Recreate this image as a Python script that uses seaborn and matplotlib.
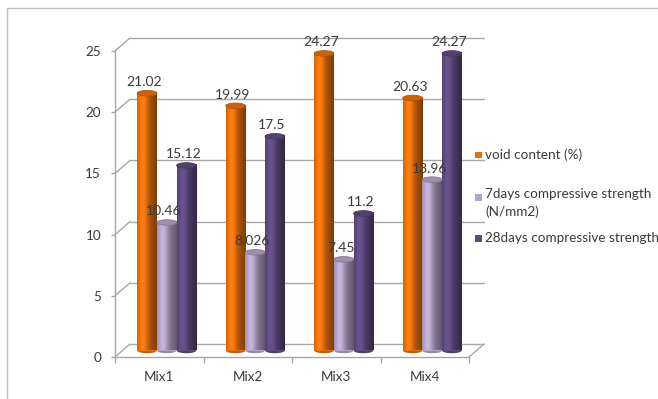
import numpy as np
import pandas as pd
import matplotlib
matplotlib.use("Agg")
import matplotlib.pyplot as plt
import seaborn as sns
from matplotlib.lines import Line2D
from matplotlib.patches import Ellipse, Rectangle
from matplotlib.colors import to_rgb

# ---- data ----
categories = ["Mix1", "Mix2", "Mix3", "Mix4"]
void_content = [21.02, 19.99, 24.27, 20.63]
strength_7d = [10.46, 8.026, 7.45, 13.96]
strength_28d = [15.12, 17.5, 11.2, 24.27]
series_names = ["void content (%)", "7days compressive strength (N/mm2)", "28days compressive strength"]
legend_texts = ["void content (%)", "7days compressive strength\n(N/mm2)", "28days compressive strength"]
y_ticks = [0, 5, 10, 15, 20, 25]

colors = ["#E8700C", "#B3A2C7", "#5E4A80"]

df = pd.DataFrame({
    "Mix": categories * 3,
    "value": void_content + strength_7d + strength_28d,
    "series": [series_names[0]] * 4 + [series_names[1]] * 4 + [series_names[2]] * 4,
})

sns.set_theme(style="white")
plt.rcParams["font.family"] = ["Lato", "DejaVu Sans"]
TXT = "#3A3A3A"
GRID = "#A6A6A6"
FS = 9.7

W, H = 658, 399
fig = plt.figure(figsize=(W / 100, H / 100), dpi=100)
fig.patch.set_facecolor("white")

# front plane geometry (pixels)
fx0, fx1, fy0, fy1 = 115, 469, 357, 51
DX, DY = 15, 13  # depth offset to back wall


def rect(dx, dy):
    return [(fx0 + dx) / W, (H - fy0 + dy) / H, (fx1 - fx0) / W, (fy0 - fy1) / H]

# back wall gridlines
ax_back = fig.add_axes(rect(DX, DY))
ax_back.set_xlim(-0.5, 3.5)
ax_back.set_ylim(0, 25)
for yv in y_ticks:
    ax_back.axhline(yv, color=GRID, lw=1.0, clip_on=False)
ax_back.axis("off")

# front axis
ax = fig.add_axes(rect(0, 0))
ax.set_xlim(-0.5, 3.5)
ax.set_ylim(0, 25)
ax.patch.set_alpha(0)
for s in ["top", "right"]:
    ax.spines[s].set_visible(False)
for s in ["left", "bottom"]:
    ax.spines[s].set_color(GRID)
    ax.spines[s].set_linewidth(1.0)
ax.set_yticks(y_ticks)
ax.set_yticklabels([str(v) for v in y_ticks])
ax.set_xticks(range(len(categories)))
ax.set_xticklabels(categories)
ax.set_xticks([-0.5, 0.5, 1.5, 2.5, 3.5], minor=True)
ax.tick_params(axis="y", which="major", length=3, width=1, color=GRID, pad=7, labelsize=FS, labelcolor=TXT, left=True)
ax.tick_params(axis="x", which="major", length=0, pad=10, labelsize=FS, labelcolor=TXT)
ax.tick_params(axis="x", which="minor", length=4, width=1, color=GRID, bottom=True)

# depth connectors
ddx = DX / (fx1 - fx0) * 4.0
ddy = DY / (fy0 - fy1) * 25.0
for yv in y_ticks:
    ax.add_line(Line2D([-0.5, -0.5 + ddx], [yv, yv + ddy], color=GRID, lw=1.0, clip_on=False))
ax.add_line(Line2D([3.5, 3.5 + ddx], [0, ddy], color=GRID, lw=1.0, clip_on=False))

# bars on the middle plane
ax_bars = fig.add_axes(rect(DX / 2, DY / 2))
ax_bars.set_xlim(-0.5, 3.5)
ax_bars.set_ylim(0, 25)
sns.barplot(data=df, x="Mix", y="value", hue="series", hue_order=series_names,
            order=categories, palette=colors, width=0.667, saturation=1,
            legend=False, ax=ax_bars, linewidth=0)
ax_bars.set_xlim(-0.5, 3.5)
ax_bars.set_ylim(0, 25)
ax_bars.axis("off")
ax_bars.patch.set_alpha(0)

cap_h = 5.5 / (fy0 - fy1) * 25.0
prof = np.linspace(0, 1, 60)
shade = 0.82 + 0.32 * np.exp(-((prof - 0.3) / 0.25) ** 2) - 0.28 * prof ** 2
bars = [p for p in ax_bars.patches if p.get_height() > 0]
for p in bars:
    x, w, h = p.get_x(), p.get_width(), p.get_height()
    base = np.array(to_rgb(p.get_facecolor()))
    grad = np.clip(base[None, :] * shade[:, None], 0, 1)[None, :, :]
    ax_bars.add_patch(Ellipse((x + w / 2, 0), w, cap_h, facecolor=base * 0.85, lw=0, zorder=2, clip_on=False))
    im = ax_bars.imshow(grad, extent=[x, x + w, 0, h], aspect="auto", zorder=3,
                        interpolation="bilinear", clip_on=False)
    im.set_clip_path(p)
    p.set_zorder(2.5)
    ax_bars.add_patch(Ellipse((x + w / 2, h), w, cap_h, facecolor=np.clip(base * 0.88, 0, 1),
                              edgecolor=np.clip(base * 0.75, 0, 1), lw=0.6, zorder=4, clip_on=False))
    ax_bars.annotate(f"{h:g}", (x + w / 2, h), xytext=(-3, 5), textcoords="offset pixels",
                     ha="center", va="bottom", fontsize=10, color=TXT, zorder=5, annotation_clip=False)
ax_bars.set_xlim(-0.5, 3.5)
ax_bars.set_ylim(0, 25)

# legend (manual, to follow the original spacing)
leg_y = [155, 197, 238]
for c, t, yy in zip(colors, legend_texts, leg_y):
    fig.add_artist(Rectangle((475 / W, (H - yy - 3.5) / H), 7 / W, 7 / H, transform=fig.transFigure,
                             facecolor=c, edgecolor="none"))
    if "\n" in t:
        fig.text(485 / W, (H - yy + 8.5) / H, t, ha="left", va="top", fontsize=FS, color=TXT, linespacing=1.45)
    else:
        fig.text(485 / W, (H - yy) / H, t, ha="left", va="center", fontsize=FS, color=TXT)

# outer frame
fig.add_artist(Line2D([7 / W, 7 / W], [0, (H - 8) / H], color="#BFBFBF", lw=1, transform=fig.transFigure))
fig.add_artist(Line2D([7 / W, 1], [(H - 8) / H, (H - 8) / H], color="#BFBFBF", lw=1, transform=fig.transFigure))

fig.savefig("out.png", dpi=100, facecolor="white")
